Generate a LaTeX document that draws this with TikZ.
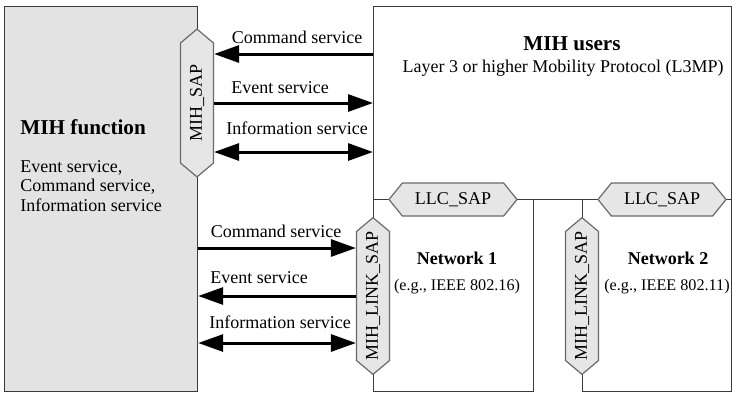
\documentclass[tikz,border=0pt]{standalone}
\usepackage{fontspec}
\setmainfont{Liberation Serif}
\usetikzlibrary{arrows.meta,shapes.symbols}
\definecolor{boxgray}{HTML}{E3E3E3}
\definecolor{hexgray}{HTML}{E6E6E6}
\definecolor{hexline}{HTML}{6A6A6A}
\definecolor{edgecol}{HTML}{3A3A3A}
\tikzset{
  lbl/.style={font=\fontsize{9}{10}\selectfont, inner sep=0pt},
  title/.style={font=\fontsize{10.6}{12}\selectfont\bfseries, inner sep=0pt},
  subtitle/.style={font=\fontsize{9}{10}\selectfont\bfseries, inner sep=0pt},
  netsub/.style={font=\fontsize{8.1}{9}\selectfont, inner sep=0pt},
  hexh/.style={shape=signal, signal to=east and west, signal pointer angle=102,
    draw=hexline, fill=hexgray, line width=0.6pt, inner sep=0pt,
    minimum width=64pt, minimum height=16.5pt, font=\fontsize{9}{10}\selectfont},
  hexv/.style={shape=signal, signal to=north and south, signal pointer angle=100,
    draw=hexline, fill=hexgray, line width=0.6pt, inner sep=0pt,
    minimum width=16.5pt, minimum height=66pt, font=\fontsize{9}{10}\selectfont},
  frame/.style={draw=edgecol, line width=0.6pt},
  arr/.style={line width=1.5pt, -{Triangle[length=12.5pt,width=8.5pt]}},
  darr/.style={line width=1.5pt, {Triangle[length=12.5pt,width=8.5pt]}-{Triangle[length=12.5pt,width=8.5pt]}}
}
\begin{document}
\begin{tikzpicture}[x=0.5pt,y=-0.5pt]
\useasboundingbox (0,0) rectangle (732,393);
% boxes
\node[frame, fill=boxgray, inner sep=0pt, minimum width=96.5pt, minimum height=192.5pt, anchor=north west] (func) at (4,6) {};
\node[frame, inner sep=0pt, minimum width=179pt, minimum height=96.5pt, anchor=north west] (users) at (373,6) {};
\node[frame, inner sep=0pt, minimum width=80pt, minimum height=96pt, anchor=north west] (net1) at (373,199) {};
\node[frame, inner sep=0pt, minimum width=74.5pt, minimum height=96pt, anchor=north west] (net2) at (582,199) {};
% SAP hexagons
\node[hexv] (sap) at (197,103) {\rotatebox{90}{MIH\_SAP}};
\node[hexv] (link1) at (373,296) {\rotatebox{90}{MIH\_LINK\_SAP}};
\node[hexv] (link2) at (582,296) {\rotatebox{90}{MIH\_LINK\_SAP}};
\node[hexh] (llc1) at (453,199.5) {LLC\_SAP};
\node[hexh] (llc2) at (662,199.5) {LLC\_SAP};
% texts
\node[title, anchor=west] (functitle) at (20,127) {MIH function};
\node[lbl, anchor=north west, align=left, font=\fontsize{9}{9.75}\selectfont] (funcsvc) at (20,160) {Event service,\\Command service,\\Information service};
\node[title] (userstitle) at (572,44) {MIH users};
\node[lbl] (userssub) at (563,68) {Layer 3 or higher Mobility Protocol (L3MP)};
\node[subtitle] (n1title) at (457,258) {Network 1};
\node[netsub] (n1sub) at (457,287) {(e.g., IEEE 802.16)};
\node[subtitle] (n2title) at (668,258) {Network 2};
\node[netsub] (n2sub) at (667,287) {(e.g., IEEE 802.11)};
% arrow y levels
\coordinate (ya) at (0,54);
\coordinate (yb) at (0,103);
\coordinate (yc) at (0,152);
\coordinate (yd) at (0,248);
\coordinate (ye) at (0,296);
\coordinate (yf) at (0,343);
% upper arrows
\draw[arr] (users.west |- ya) -- (sap.east |- ya);
\node[lbl] (la) at (297,37) {Command service};
\draw[arr] (sap.east |- yb) -- (users.west |- yb);
\node[lbl] (lb) at (280,88) {Event service};
\draw[darr] (sap.east |- yc) -- (users.west |- yc);
\node[lbl] (lc) at (297,128) {Information service};
% lower arrows
\draw[arr] (func.east |- yd) -- (link1.west |- yd);
\node[lbl] (ld) at (276,231) {Command service};
\draw[arr] (link1.west |- ye) -- (func.east |- ye);
\node[lbl] (le) at (259,278) {Event service};
\draw[darr] (func.east |- yf) -- (link1.west |- yf);
\node[lbl] (lf) at (280,322) {Information service};
\end{tikzpicture}
\end{document}
